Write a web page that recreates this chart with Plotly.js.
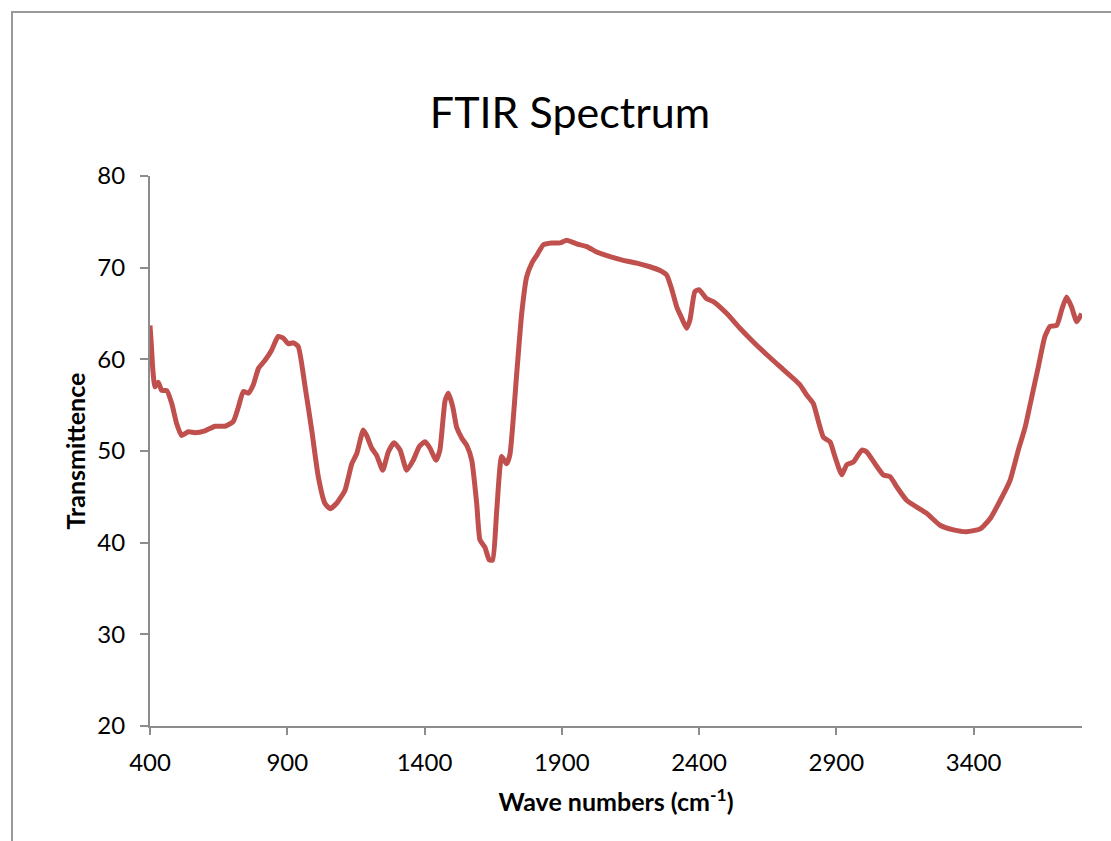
<!DOCTYPE html>
<html>
<head>
<meta charset="utf-8">
<script src="https://cdn.plot.ly/plotly-3.0.1.min.js"></script>
<style>
  html, body { margin: 0; padding: 0; background: #fff; overflow: hidden; }
  #wrap { position: relative; width: 1111px; height: 841px; }
  #chart { position: absolute; left: 0; top: 0; width: 1111px; height: 841px; }
  #frame { position: absolute; left: 11px; top: 11px; width: 1200px; height: 900px;
           border-left: 2px solid #999; border-top: 2px solid #999; pointer-events: none; }
</style>
</head>
<body>
<div id="wrap">
  <div id="chart"></div>
  <div id="frame"></div>
</div>
<script>
const wavenumbers = [
  400, 405, 410, 418, 430, 443, 461, 479, 497, 515,
  540, 564, 600, 637, 673, 703, 722, 740, 758, 776,
  795, 819, 843, 867, 886, 904, 922, 940, 965, 989,
  1013, 1037, 1056, 1080, 1110, 1135, 1153, 1177, 1189, 1208,
  1226, 1248, 1268, 1289, 1311, 1335, 1359, 1381, 1402, 1420,
  1442, 1456, 1475, 1487, 1503, 1517, 1536, 1554, 1572, 1590,
  1602, 1620, 1636, 1648, 1663, 1681, 1699, 1711, 1736, 1754,
  1772, 1791, 1810, 1833, 1863, 1894, 1918, 1954, 1991, 2027,
  2076, 2124, 2173, 2221, 2258, 2282, 2300, 2319, 2337, 2355,
  2367, 2385, 2400, 2428, 2452, 2501, 2549, 2598, 2647, 2695,
  2744, 2768, 2792, 2816, 2835, 2853, 2877, 2895, 2920, 2938,
  2962, 2993, 3011, 3041, 3071, 3096, 3120, 3157, 3229, 3278,
  3327, 3375, 3424, 3460, 3497, 3533, 3563, 3588, 3612, 3636,
  3660, 3679, 3703, 3721, 3739, 3757, 3776, 3794
];
const transmittance = [
  63.7, 61.5, 59.0, 57.0, 57.5, 56.6, 56.6, 55.2, 53.0, 51.7,
  52.1, 52.0, 52.2, 52.7, 52.7, 53.2, 54.8, 56.5, 56.3, 57.2,
  59.0, 59.9, 61.0, 62.5, 62.3, 61.7, 61.8, 61.4, 57.0, 52.3,
  47.2, 44.3, 43.7, 44.3, 45.7, 48.6, 49.7, 52.3, 51.7, 50.3,
  49.5, 47.9, 49.9, 50.9, 50.1, 47.9, 49.0, 50.5, 51.0, 50.3,
  49.0, 50.1, 55.5, 56.3, 54.8, 52.6, 51.4, 50.6, 49.0, 44.3,
  40.3, 39.5, 38.1, 38.1, 43.5, 49.4, 48.6, 49.6, 58.5, 65.0,
  69.0, 70.5, 71.4, 72.5, 72.7, 72.7, 73.0, 72.6, 72.3, 71.7,
  71.2, 70.8, 70.5, 70.1, 69.7, 69.2, 67.7, 65.7, 64.5, 63.4,
  64.3, 67.4, 67.6, 66.6, 66.3, 65.0, 63.4, 61.9, 60.5, 59.2,
  57.9, 57.2, 56.1, 55.2, 53.2, 51.5, 51.0, 49.4, 47.4, 48.5,
  48.8, 50.1, 49.9, 48.6, 47.4, 47.2, 46.1, 44.6, 43.2, 41.9,
  41.4, 41.2, 41.5, 42.6, 44.6, 46.8, 50.1, 52.6, 55.9, 59.2,
  62.5, 63.6, 63.7, 65.4, 66.8, 65.7, 64.1, 65.0
];
const xTicks = [400, 900, 1400, 1900, 2400, 2900, 3400];
const yTicks = [20, 30, 40, 50, 60, 70, 80];
const chartTitle = "FTIR Spectrum";
const xTitle = "<b>Wave numbers (cm<sup>-1</sup>)</b>";
const yTitle = "<b>Transmittence</b>";

const trace = {
  x: wavenumbers,
  y: transmittance,
  type: "scatter",
  mode: "lines",
  line: { color: "#c0504d", width: 5, shape: "spline", smoothing: 0.5 },
  hoverinfo: "x+y"
};

const axisColor = "#8c8c8c";
const fontFam = "Lato, 'Open Sans', sans-serif";

const layout = {
  width: 1111,
  height: 841,
  margin: { l: 150, r: 29, t: 176, b: 115 },
  paper_bgcolor: "#ffffff",
  plot_bgcolor: "#ffffff",
  showlegend: false,
  font: { family: fontFam, color: "#000" },
  title: {
    text: chartTitle,
    font: { family: fontFam, size: 43, color: "#000" },
    x: 570 / 1111, xanchor: "center", xref: "container",
    y: 1 - 113 / 841, yanchor: "middle", yref: "container"
  },
  xaxis: {
    range: [400, 3795],
    tickmode: "array",
    tickvals: xTicks,
    ticktext: xTicks.map(String),
    showgrid: false,
    zeroline: false,
    showline: true,
    linecolor: axisColor,
    linewidth: 2,
    ticks: "outside",
    ticklen: 7,
    tickwidth: 2,
    tickcolor: axisColor,
    tickfont: { family: fontFam, size: 24, color: "#000" },
    ticklabelstandoff: 7,
    title: { text: xTitle, font: { family: fontFam, size: 25, color: "#000" }, standoff: 19 }
  },
  yaxis: {
    range: [20, 80],
    tickmode: "array",
    tickvals: yTicks,
    ticktext: yTicks.map(String),
    showgrid: false,
    zeroline: false,
    showline: true,
    linecolor: axisColor,
    linewidth: 2,
    ticks: "outside",
    ticklen: 8,
    tickwidth: 2,
    tickcolor: axisColor,
    tickfont: { family: fontFam, size: 24, color: "#000" },
    ticklabelstandoff: 10,
    title: { text: yTitle, font: { family: fontFam, size: 25, color: "#000" }, standoff: 5 }
  }
};

Plotly.newPlot("chart", [trace], layout, { displayModeBar: false });
</script>
</body>
</html>
